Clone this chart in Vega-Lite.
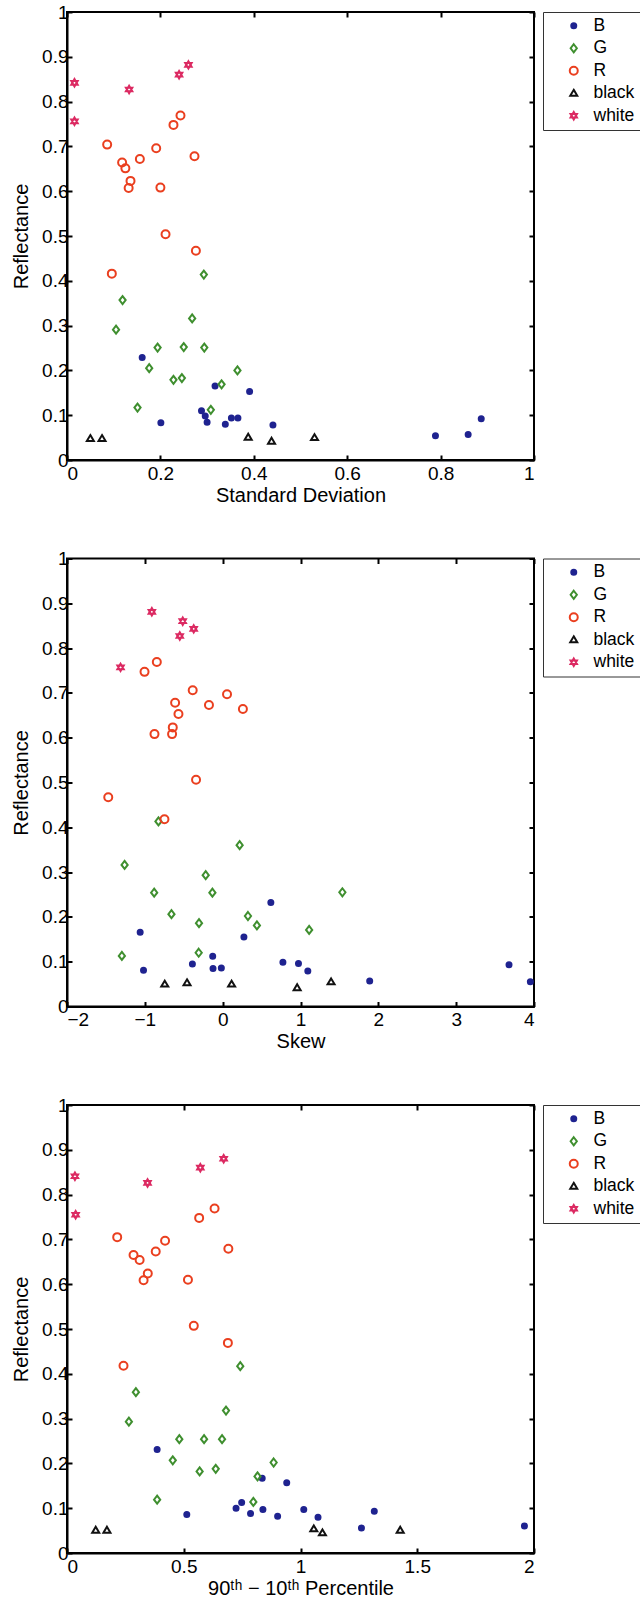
{
  "$schema": "https://vega.github.io/schema/vega-lite/v6.json",
  "background": "white",
  "padding": {"left": 10, "top": 2, "right": 0, "bottom": 0},
  "spacing": 42.5,
  "config": {
    "font": "Liberation Sans",
    "view": {"stroke": "black", "strokeWidth": 2},
    "axis": {
      "grid": false,
      "domainColor": "black",
      "domainWidth": 2,
      "tickColor": "black",
      "tickWidth": 2,
      "tickSize": -5,
      "labelFont": "Liberation Sans",
      "labelFontSize": 19,
      "labelColor": "black",
      "titleFont": "Liberation Sans",
      "titleFontSize": 20,
      "titleFontWeight": "normal",
      "titleColor": "black"
    },
    "axisX": {"labelPadding": 9, "titlePadding": 2},
    "axisY": {"labelPadding": 4, "titlePadding": 10},
    "legend": {
      "orient": "right",
      "offset": 8,
      "padding": 5,
      "strokeColor": "#333333",
      "strokeWidth": 1,
      "labelFont": "Liberation Sans",
      "labelFontSize": 17.5,
      "labelColor": "black",
      "symbolSize": 100,
      "symbolStrokeWidth": 2,
      "symbolOffset": 17,
      "labelOffset": 11,
      "rowPadding": 3.5
    }
  },
  "datasets": {
    "sd": [
      {"cls": "B", "x": 0.161, "y": 0.229}, {"cls": "B", "x": 0.317, "y": 0.165}, {"cls": "B", "x": 0.391, "y": 0.153},
      {"cls": "B", "x": 0.201, "y": 0.083}, {"cls": "B", "x": 0.288, "y": 0.110}, {"cls": "B", "x": 0.296, "y": 0.098},
      {"cls": "B", "x": 0.300, "y": 0.084}, {"cls": "B", "x": 0.339, "y": 0.080}, {"cls": "B", "x": 0.352, "y": 0.094},
      {"cls": "B", "x": 0.366, "y": 0.094}, {"cls": "B", "x": 0.441, "y": 0.078}, {"cls": "B", "x": 0.789, "y": 0.054},
      {"cls": "B", "x": 0.859, "y": 0.057}, {"cls": "B", "x": 0.887, "y": 0.092},
      {"cls": "G", "x": 0.293, "y": 0.414}, {"cls": "G", "x": 0.119, "y": 0.357}, {"cls": "G", "x": 0.105, "y": 0.291},
      {"cls": "G", "x": 0.268, "y": 0.316}, {"cls": "G", "x": 0.194, "y": 0.251}, {"cls": "G", "x": 0.250, "y": 0.252},
      {"cls": "G", "x": 0.294, "y": 0.251}, {"cls": "G", "x": 0.176, "y": 0.205}, {"cls": "G", "x": 0.228, "y": 0.179},
      {"cls": "G", "x": 0.246, "y": 0.183}, {"cls": "G", "x": 0.331, "y": 0.169}, {"cls": "G", "x": 0.365, "y": 0.200},
      {"cls": "G", "x": 0.151, "y": 0.117}, {"cls": "G", "x": 0.308, "y": 0.112},
      {"cls": "R", "x": 0.086, "y": 0.704}, {"cls": "R", "x": 0.118, "y": 0.664}, {"cls": "R", "x": 0.125, "y": 0.651},
      {"cls": "R", "x": 0.136, "y": 0.623}, {"cls": "R", "x": 0.132, "y": 0.607}, {"cls": "R", "x": 0.156, "y": 0.672},
      {"cls": "R", "x": 0.191, "y": 0.696}, {"cls": "R", "x": 0.200, "y": 0.608}, {"cls": "R", "x": 0.228, "y": 0.748},
      {"cls": "R", "x": 0.243, "y": 0.769}, {"cls": "R", "x": 0.273, "y": 0.678}, {"cls": "R", "x": 0.211, "y": 0.504},
      {"cls": "R", "x": 0.276, "y": 0.467}, {"cls": "R", "x": 0.096, "y": 0.416},
      {"cls": "black", "x": 0.050, "y": 0.048}, {"cls": "black", "x": 0.075, "y": 0.048}, {"cls": "black", "x": 0.388, "y": 0.051},
      {"cls": "black", "x": 0.438, "y": 0.042}, {"cls": "black", "x": 0.530, "y": 0.050},
      {"cls": "white", "x": 0.016, "y": 0.842}, {"cls": "white", "x": 0.016, "y": 0.756}, {"cls": "white", "x": 0.133, "y": 0.827},
      {"cls": "white", "x": 0.240, "y": 0.860}, {"cls": "white", "x": 0.260, "y": 0.882}
    ],
    "skew": [
      {"cls": "B", "x": -1.060, "y": 0.166}, {"cls": "B", "x": -1.017, "y": 0.081}, {"cls": "B", "x": -0.389, "y": 0.095},
      {"cls": "B", "x": -0.128, "y": 0.112}, {"cls": "B", "x": -0.124, "y": 0.085}, {"cls": "B", "x": -0.017, "y": 0.086},
      {"cls": "B", "x": 0.273, "y": 0.155}, {"cls": "B", "x": 0.619, "y": 0.232}, {"cls": "B", "x": 0.774, "y": 0.099},
      {"cls": "B", "x": 0.974, "y": 0.096}, {"cls": "B", "x": 1.094, "y": 0.079}, {"cls": "B", "x": 1.889, "y": 0.057},
      {"cls": "B", "x": 3.679, "y": 0.093}, {"cls": "B", "x": 3.953, "y": 0.055},
      {"cls": "G", "x": -0.825, "y": 0.413}, {"cls": "G", "x": -1.260, "y": 0.316}, {"cls": "G", "x": 0.218, "y": 0.360},
      {"cls": "G", "x": -0.218, "y": 0.293}, {"cls": "G", "x": -0.880, "y": 0.254}, {"cls": "G", "x": -0.132, "y": 0.254},
      {"cls": "G", "x": -0.658, "y": 0.206}, {"cls": "G", "x": -0.304, "y": 0.186}, {"cls": "G", "x": 0.325, "y": 0.202},
      {"cls": "G", "x": 0.440, "y": 0.181}, {"cls": "G", "x": -1.295, "y": 0.113}, {"cls": "G", "x": -0.308, "y": 0.120},
      {"cls": "G", "x": 1.111, "y": 0.171}, {"cls": "G", "x": 1.538, "y": 0.255},
      {"cls": "R", "x": -0.846, "y": 0.769}, {"cls": "R", "x": -1.004, "y": 0.747}, {"cls": "R", "x": -0.385, "y": 0.706},
      {"cls": "R", "x": 0.056, "y": 0.697}, {"cls": "R", "x": -0.176, "y": 0.673}, {"cls": "R", "x": -0.611, "y": 0.678},
      {"cls": "R", "x": -0.568, "y": 0.653}, {"cls": "R", "x": 0.260, "y": 0.664}, {"cls": "R", "x": -0.641, "y": 0.623},
      {"cls": "R", "x": -0.650, "y": 0.608}, {"cls": "R", "x": -0.876, "y": 0.608}, {"cls": "R", "x": -0.342, "y": 0.506},
      {"cls": "R", "x": -1.470, "y": 0.467}, {"cls": "R", "x": -0.748, "y": 0.418},
      {"cls": "black", "x": -0.744, "y": 0.050}, {"cls": "black", "x": -0.458, "y": 0.053}, {"cls": "black", "x": 0.115, "y": 0.050},
      {"cls": "black", "x": 0.957, "y": 0.042}, {"cls": "black", "x": 1.393, "y": 0.055},
      {"cls": "white", "x": -0.910, "y": 0.881}, {"cls": "white", "x": -0.513, "y": 0.860}, {"cls": "white", "x": -0.372, "y": 0.843},
      {"cls": "white", "x": -0.551, "y": 0.827}, {"cls": "white", "x": -1.312, "y": 0.757}
    ],
    "pct": [
      {"cls": "B", "x": 0.386, "y": 0.231}, {"cls": "B", "x": 0.513, "y": 0.086}, {"cls": "B", "x": 0.724, "y": 0.100},
      {"cls": "B", "x": 0.748, "y": 0.113}, {"cls": "B", "x": 0.786, "y": 0.088}, {"cls": "B", "x": 0.836, "y": 0.167},
      {"cls": "B", "x": 0.839, "y": 0.097}, {"cls": "B", "x": 0.902, "y": 0.082}, {"cls": "B", "x": 0.941, "y": 0.157},
      {"cls": "B", "x": 1.014, "y": 0.097}, {"cls": "B", "x": 1.075, "y": 0.080}, {"cls": "B", "x": 1.261, "y": 0.056},
      {"cls": "B", "x": 1.316, "y": 0.093}, {"cls": "B", "x": 1.959, "y": 0.060},
      {"cls": "G", "x": 0.742, "y": 0.417}, {"cls": "G", "x": 0.295, "y": 0.359}, {"cls": "G", "x": 0.265, "y": 0.293},
      {"cls": "G", "x": 0.681, "y": 0.318}, {"cls": "G", "x": 0.481, "y": 0.254}, {"cls": "G", "x": 0.587, "y": 0.254},
      {"cls": "G", "x": 0.664, "y": 0.254}, {"cls": "G", "x": 0.453, "y": 0.207}, {"cls": "G", "x": 0.568, "y": 0.182},
      {"cls": "G", "x": 0.637, "y": 0.188}, {"cls": "G", "x": 0.816, "y": 0.171}, {"cls": "G", "x": 0.885, "y": 0.202},
      {"cls": "G", "x": 0.386, "y": 0.119}, {"cls": "G", "x": 0.798, "y": 0.114},
      {"cls": "R", "x": 0.215, "y": 0.705}, {"cls": "R", "x": 0.285, "y": 0.665}, {"cls": "R", "x": 0.311, "y": 0.654},
      {"cls": "R", "x": 0.346, "y": 0.624}, {"cls": "R", "x": 0.328, "y": 0.609}, {"cls": "R", "x": 0.380, "y": 0.673},
      {"cls": "R", "x": 0.420, "y": 0.697}, {"cls": "R", "x": 0.518, "y": 0.610}, {"cls": "R", "x": 0.566, "y": 0.748},
      {"cls": "R", "x": 0.632, "y": 0.769}, {"cls": "R", "x": 0.691, "y": 0.679}, {"cls": "R", "x": 0.543, "y": 0.507},
      {"cls": "R", "x": 0.689, "y": 0.469}, {"cls": "R", "x": 0.242, "y": 0.418},
      {"cls": "black", "x": 0.123, "y": 0.051}, {"cls": "black", "x": 0.171, "y": 0.051}, {"cls": "black", "x": 1.057, "y": 0.054},
      {"cls": "black", "x": 1.094, "y": 0.045}, {"cls": "black", "x": 1.427, "y": 0.051},
      {"cls": "white", "x": 0.034, "y": 0.841}, {"cls": "white", "x": 0.037, "y": 0.755}, {"cls": "white", "x": 0.345, "y": 0.826},
      {"cls": "white", "x": 0.571, "y": 0.860}, {"cls": "white", "x": 0.671, "y": 0.880}
    ]
  },
  "resolve": {
    "scale": {"shape": "independent", "stroke": "independent", "fill": "independent"},
    "legend": {"shape": "independent", "stroke": "independent", "fill": "independent"}
  },
  "vconcat": [
    {
      "width": 467, "height": 448,
      "data": {"name": "sd"},
      "resolve": {"axis": {"x": "independent", "y": "independent"}},
      "layer": [
        {
          "mark": {"type": "point", "size": 100, "strokeWidth": 2, "opacity": 1},
          "encoding": {
            "x": {"field": "x", "type": "quantitative", "scale": {"domain": [0, 1], "nice": false, "zero": false},
                  "axis": {"values": [0, 0.2, 0.4, 0.6, 0.8, 1], "format": "~g", "title": "Standard Deviation"}},
            "y": {"field": "y", "type": "quantitative", "scale": {"domain": [0, 1], "nice": false, "zero": false},
                  "axis": {"values": [0, 0.1, 0.2, 0.3, 0.4, 0.5, 0.6, 0.7, 0.8, 0.9, 1], "format": "~g", "title": "Reflectance"}},
            "shape": {"field": "cls", "type": "nominal", "legend": {"title": null},
                      "scale": {"domain": ["B", "G", "R", "black", "white"],
                                "range": ["M0.5,0A0.5,0.5,0,1,1,-0.5,0A0.5,0.5,0,1,1,0.5,0Z", "M0,-0.8L0.62,0L0,0.8L-0.62,0Z", "M0.8,0A0.8,0.8,0,1,1,-0.8,0A0.8,0.8,0,1,1,0.8,0Z", "M0,-0.68L0.7,0.5L-0.7,0.5Z", "M0,-0.74L0.64,0.37L-0.64,0.37ZM0,0.74L0.64,-0.37L-0.64,-0.37Z"]}},
            "stroke": {"field": "cls", "type": "nominal", "legend": {"title": null},
                       "scale": {"domain": ["B", "G", "R", "black", "white"], "range": ["#1f2390", "#3f8f2f", "#ea3f1f", "#111111", "#dc2a62"]}},
            "fill": {"field": "cls", "type": "nominal", "legend": {"title": null},
                     "scale": {"domain": ["B", "G", "R", "black", "white"], "range": ["#1f2390", "transparent", "transparent", "transparent", "transparent"]}}
          }
        },
        {
          "mark": {"type": "point", "opacity": 0},
          "encoding": {
            "x": {"field": "x", "type": "quantitative", "axis": {"orient": "top", "labels": false, "title": null, "domain": false, "values": [0, 0.2, 0.4, 0.6, 0.8, 1]}},
            "y": {"field": "y", "type": "quantitative", "axis": {"orient": "right", "labels": false, "title": null, "domain": false, "values": [0, 0.1, 0.2, 0.3, 0.4, 0.5, 0.6, 0.7, 0.8, 0.9, 1]}}
          }
        }
      ]
    },
    {
      "width": 467, "height": 448,
      "data": {"name": "skew"},
      "resolve": {"axis": {"x": "independent", "y": "independent"}},
      "layer": [
        {
          "mark": {"type": "point", "size": 100, "strokeWidth": 2, "opacity": 1},
          "encoding": {
            "x": {"field": "x", "type": "quantitative", "scale": {"domain": [-2, 4], "nice": false, "zero": false},
                  "axis": {"values": [-2, -1, 0, 1, 2, 3, 4], "format": "~g", "title": "Skew"}},
            "y": {"field": "y", "type": "quantitative", "scale": {"domain": [0, 1], "nice": false, "zero": false},
                  "axis": {"values": [0, 0.1, 0.2, 0.3, 0.4, 0.5, 0.6, 0.7, 0.8, 0.9, 1], "format": "~g", "title": "Reflectance"}},
            "shape": {"field": "cls", "type": "nominal", "legend": {"title": null},
                      "scale": {"domain": ["B", "G", "R", "black", "white"],
                                "range": ["M0.5,0A0.5,0.5,0,1,1,-0.5,0A0.5,0.5,0,1,1,0.5,0Z", "M0,-0.8L0.62,0L0,0.8L-0.62,0Z", "M0.8,0A0.8,0.8,0,1,1,-0.8,0A0.8,0.8,0,1,1,0.8,0Z", "M0,-0.68L0.7,0.5L-0.7,0.5Z", "M0,-0.74L0.64,0.37L-0.64,0.37ZM0,0.74L0.64,-0.37L-0.64,-0.37Z"]}},
            "stroke": {"field": "cls", "type": "nominal", "legend": {"title": null},
                       "scale": {"domain": ["B", "G", "R", "black", "white"], "range": ["#1f2390", "#3f8f2f", "#ea3f1f", "#111111", "#dc2a62"]}},
            "fill": {"field": "cls", "type": "nominal", "legend": {"title": null},
                     "scale": {"domain": ["B", "G", "R", "black", "white"], "range": ["#1f2390", "transparent", "transparent", "transparent", "transparent"]}}
          }
        },
        {
          "mark": {"type": "point", "opacity": 0},
          "encoding": {
            "x": {"field": "x", "type": "quantitative", "axis": {"orient": "top", "labels": false, "title": null, "domain": false, "values": [-2, -1, 0, 1, 2, 3, 4]}},
            "y": {"field": "y", "type": "quantitative", "axis": {"orient": "right", "labels": false, "title": null, "domain": false, "values": [0, 0.1, 0.2, 0.3, 0.4, 0.5, 0.6, 0.7, 0.8, 0.9, 1]}}
          }
        }
      ]
    },
    {
      "width": 467, "height": 448,
      "data": {"name": "pct"},
      "resolve": {"axis": {"x": "independent", "y": "independent"}},
      "layer": [
        {
          "mark": {"type": "point", "size": 100, "strokeWidth": 2, "opacity": 1},
          "encoding": {
            "x": {"field": "x", "type": "quantitative", "scale": {"domain": [0, 2], "nice": false, "zero": false},
                  "axis": {"values": [0, 0.5, 1, 1.5, 2], "format": "~g", "title": "90ᵗʰ − 10ᵗʰ Percentile"}},
            "y": {"field": "y", "type": "quantitative", "scale": {"domain": [0, 1], "nice": false, "zero": false},
                  "axis": {"values": [0, 0.1, 0.2, 0.3, 0.4, 0.5, 0.6, 0.7, 0.8, 0.9, 1], "format": "~g", "title": "Reflectance"}},
            "shape": {"field": "cls", "type": "nominal", "legend": {"title": null},
                      "scale": {"domain": ["B", "G", "R", "black", "white"],
                                "range": ["M0.5,0A0.5,0.5,0,1,1,-0.5,0A0.5,0.5,0,1,1,0.5,0Z", "M0,-0.8L0.62,0L0,0.8L-0.62,0Z", "M0.8,0A0.8,0.8,0,1,1,-0.8,0A0.8,0.8,0,1,1,0.8,0Z", "M0,-0.68L0.7,0.5L-0.7,0.5Z", "M0,-0.74L0.64,0.37L-0.64,0.37ZM0,0.74L0.64,-0.37L-0.64,-0.37Z"]}},
            "stroke": {"field": "cls", "type": "nominal", "legend": {"title": null},
                       "scale": {"domain": ["B", "G", "R", "black", "white"], "range": ["#1f2390", "#3f8f2f", "#ea3f1f", "#111111", "#dc2a62"]}},
            "fill": {"field": "cls", "type": "nominal", "legend": {"title": null},
                     "scale": {"domain": ["B", "G", "R", "black", "white"], "range": ["#1f2390", "transparent", "transparent", "transparent", "transparent"]}}
          }
        },
        {
          "mark": {"type": "point", "opacity": 0},
          "encoding": {
            "x": {"field": "x", "type": "quantitative", "axis": {"orient": "top", "labels": false, "title": null, "domain": false, "values": [0, 0.5, 1, 1.5, 2]}},
            "y": {"field": "y", "type": "quantitative", "axis": {"orient": "right", "labels": false, "title": null, "domain": false, "values": [0, 0.1, 0.2, 0.3, 0.4, 0.5, 0.6, 0.7, 0.8, 0.9, 1]}}
          }
        }
      ]
    }
  ]
}
